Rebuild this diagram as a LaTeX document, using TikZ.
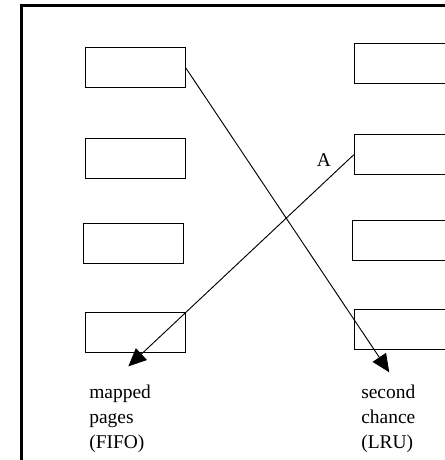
\documentclass[tikz,border=0pt]{standalone}
\usepackage{fontspec}
\setmainfont{Liberation Serif}
\usetikzlibrary{arrows.meta}

\begin{document}
\begin{tikzpicture}[x=0.75pt,y=-0.75pt,
    page/.style={draw,line width=0.75pt,minimum width=75pt,minimum height=30pt,inner sep=0pt},
    lbl/.style={align=left,inner sep=0pt,anchor=north west,
      font=\fontsize{14.6}{18.8}\selectfont}]
  \useasboundingbox (0,0) rectangle (445,460);
  \draw[line width=1.9pt] (21.3,470) -- (21.3,5.5) -- (455,5.5);
  % left column: mapped pages
  \node[page] (l1) at (135,67.5) {};
  \node[page] (l2) at (135,158) {};
  \node[page] (l3) at (133.5,243.7) {};
  \node[page] (l4) at (135,332.7) {};
  % right column: second chance
  \node[page] (r1) at (404.3,63.9) {};
  \node[page] (r2) at (404.3,154.7) {};
  \node[page] (r3) at (402.7,240.4) {};
  \node[page] (r4) at (404,329) {};
  \coordinate (t1) at (389.3,372.3);
  \coordinate (t2) at (128.3,366.4);
  \path[line width=0.7pt,-{Triangle[length=13.5pt,width=12pt]}]
    (l1.east) edge (t1) (r2.west) edge (t2);
  \node[inner sep=0pt,font=\fontsize{14.6}{18.8}\selectfont] (a) at (323.8,159.7) {A};
  \node[lbl] (fifo) at (89,385) {mapped\\pages\\(FIFO)};
  \node[lbl] (lru) at (361,385) {second\\chance\\(LRU)};
\end{tikzpicture}
\end{document}
